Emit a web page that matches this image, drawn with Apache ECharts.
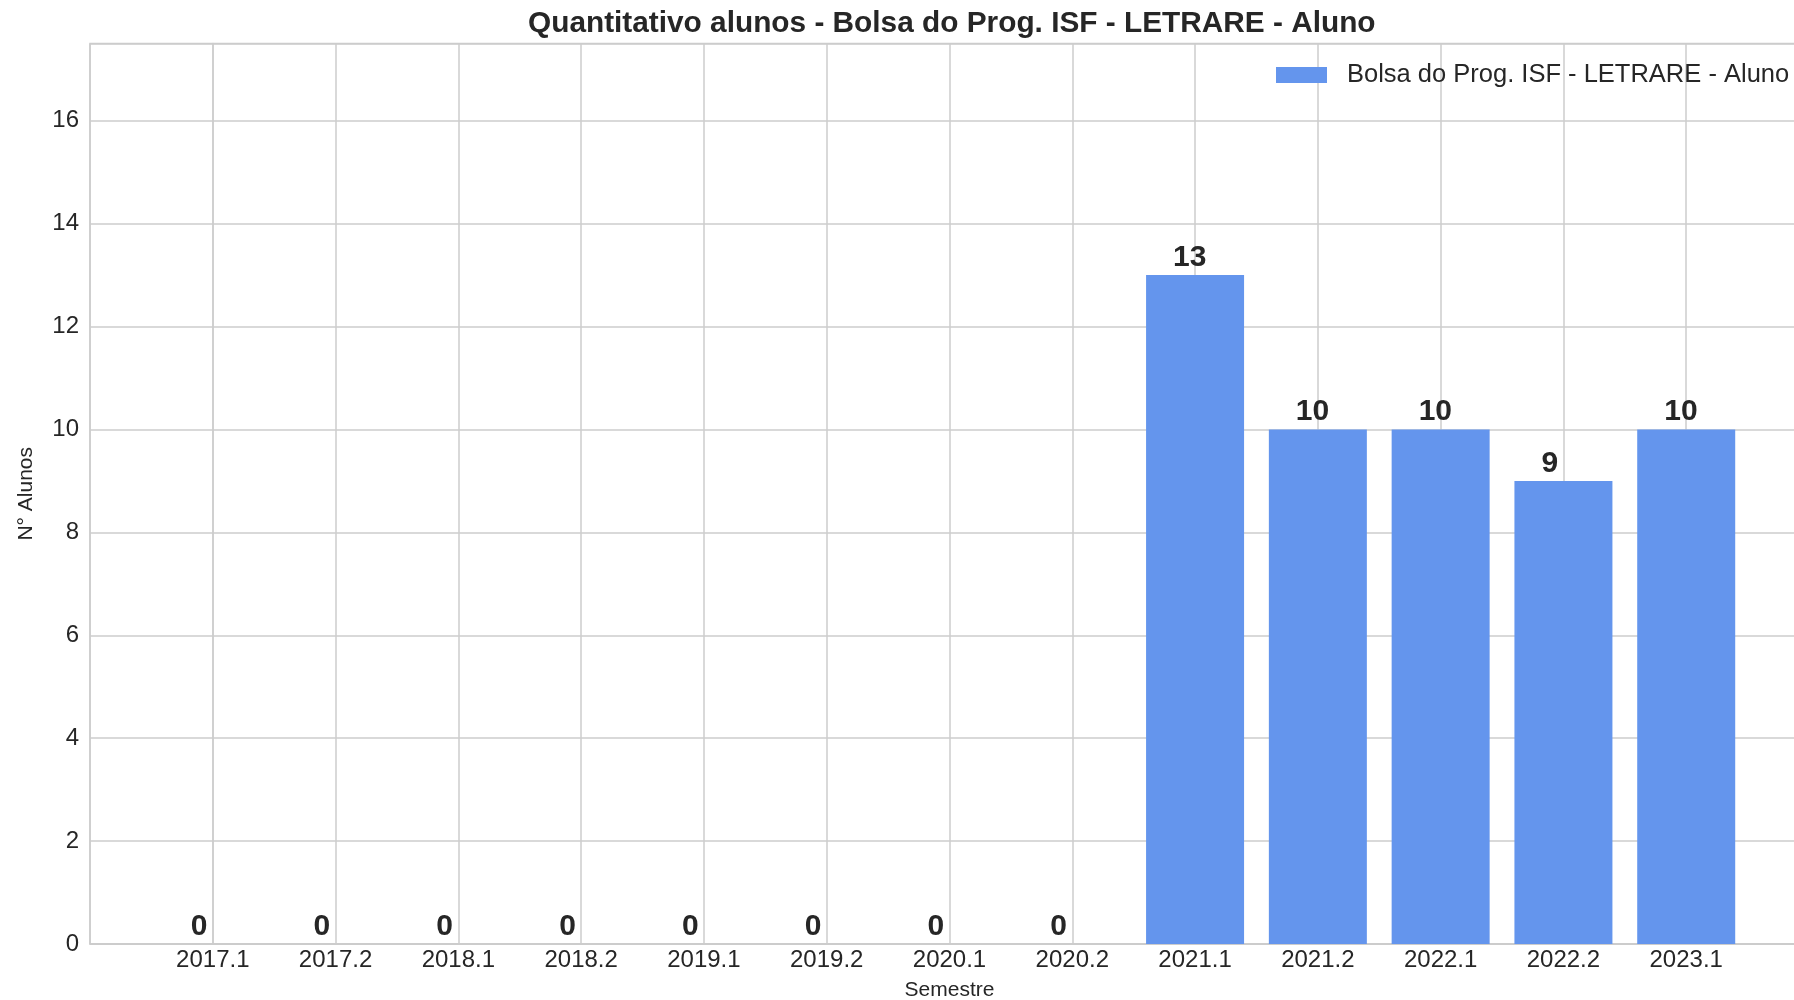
<!DOCTYPE html>
<html>
<head>
<meta charset="utf-8">
<script src="https://cdn.jsdelivr.net/npm/echarts@6/dist/echarts.min.js"></script>
<style>
html, body { margin: 0; padding: 0; background: #fff; }
#main { width: 1794px; height: 1000px; }
</style>
</head>
<body>
<div id="main"></div>
<script>
// dados do grafico
var semestres = ['2017.1', '2017.2', '2018.1', '2018.2', '2019.1', '2019.2', '2020.1', '2020.2', '2021.1', '2021.2', '2022.1', '2022.2', '2023.1'];
var alunos = [0, 0, 0, 0, 0, 0, 0, 0, 13, 10, 10, 9, 10];
var nomeSerie = 'Bolsa do Prog. ISF - LETRARE - Aluno';
var yTicks = [0, 2, 4, 6, 8, 10, 12, 14, 16];

var fonte = 'Liberation Sans';
var corTexto = '#262626';
var corGrade = '#cccccc';

// eixo x numerico: cada semestre fica no indice i
var pontos = [];
for (var i = 0; i < alunos.length; i++) {
    pontos.push([i, alunos[i]]);
}

var myChart = echarts.init(document.getElementById('main'));
var option = {
    backgroundColor: '#ffffff',
    animation: false,
    title: {
        text: 'Quantitativo alunos - Bolsa do Prog. ISF - LETRARE - Aluno',
        left: 523,
        top: 4,
        textStyle: { fontFamily: fonte, fontSize: 29.8, fontWeight: 'bold', color: corTexto }
    },
    legend: {
        data: [nomeSerie],
        left: 1271,
        top: 57,
        icon: 'rect',
        itemWidth: 51,
        itemHeight: 16,
        textStyle: { fontFamily: fonte, fontSize: 25.5, color: corTexto, padding: [0, 0, 0, 15] }
    },
    grid: {
        left: 90,
        right: -15,
        top: 43.5,
        bottom: 56,
        outerBoundsMode: 'none',
        containLabel: false,
        show: true,
        borderColor: corGrade,
        borderWidth: 1.5
    },
    xAxis: {
        type: 'value',
        min: -1,
        max: 13,
        interval: 1,
        name: 'Semestre',
        nameLocation: 'middle',
        nameGap: 36,
        nameTextStyle: { fontFamily: fonte, fontSize: 21, color: corTexto, verticalAlign: 'top' },
        axisLine: { show: true, lineStyle: { color: corGrade, width: 1.5 } },
        axisTick: { show: false },
        axisLabel: {
            margin: 4,
            fontFamily: fonte,
            fontSize: 24,
            color: corTexto,
            formatter: function (v) {
                return (Number.isInteger(v) && v >= 0 && v < semestres.length) ? semestres[v] : '';
            }
        },
        splitLine: { show: true, lineStyle: { color: corGrade, width: 1.5 } }
    },
    yAxis: {
        type: 'value',
        min: 0,
        max: 17.5,
        interval: 2,
        name: 'N° Alunos',
        nameLocation: 'middle',
        nameRotate: 90,
        nameGap: 53,
        nameTextStyle: { fontFamily: fonte, fontSize: 21, color: corTexto },
        axisLine: { show: true, lineStyle: { color: corGrade, width: 1.5 } },
        axisTick: { show: false },
        axisLabel: {
            margin: 11,
            fontFamily: fonte,
            fontSize: 24,
            color: corTexto,
            formatter: function (v) {
                return yTicks.indexOf(v) >= 0 ? String(v) : '';
            }
        },
        splitLine: { show: true, lineStyle: { color: corGrade, width: 1.5 } }
    },
    series: [
        {
            name: nomeSerie,
            type: 'bar',
            barWidth: 98,
            data: pontos,
            itemStyle: { color: '#6495ED' },
            label: {
                show: true,
                position: 'top',
                distance: 2.5,
                align: 'left',
                offset: [-22, 0],
                fontFamily: fonte,
                fontSize: 30,
                fontWeight: 'bold',
                color: corTexto,
                formatter: function (p) { return p.value[1]; }
            }
        }
    ]
};
myChart.setOption(option);
</script>
</body>
</html>
